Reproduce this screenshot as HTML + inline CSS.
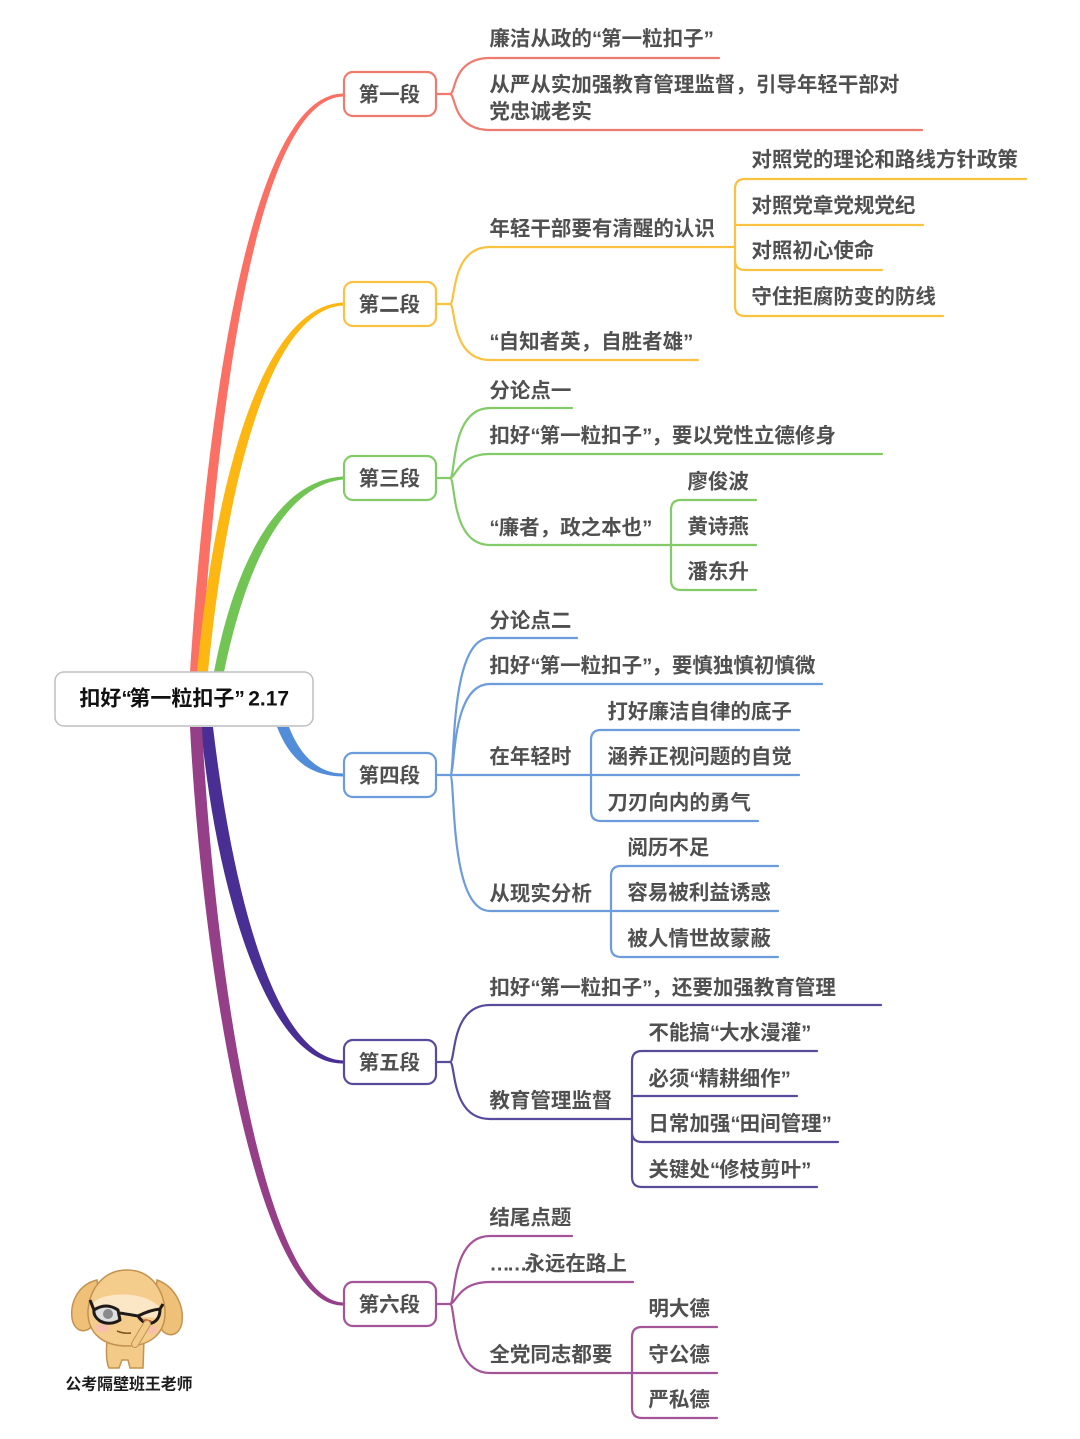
<!DOCTYPE html>
<html lang="zh"><head><meta charset="utf-8"><title>扣好“第一粒扣子”</title>
<style>
html,body{margin:0;padding:0;background:#fff}
svg{display:block}
text{font-family:"Liberation Sans","Noto Sans CJK SC",sans-serif;font-size:20.5px;font-weight:700;fill:#505050;transform:translate(-.6px,-.5px)}
.q{letter-spacing:-1px}
.r{letter-spacing:-2.5px}
.e{letter-spacing:-3px}
.l{fill:none;stroke-width:2.2;stroke-linecap:round;stroke-linejoin:round}
.n{fill:#fff;stroke-width:2.2}
.c{text-anchor:middle}
</style></head><body>
<svg width="1080" height="1439" viewBox="0 0 1080 1439" xmlns="http://www.w3.org/2000/svg">
<!-- main tapered branches -->
<path fill="#fb7064" d="M190 672C205 440 245 95 343 93.5L343 96.5C252 100 215 440 201 672Z"/>
<path fill="#fcb712" d="M197 672C215 480 262 306 343 302.5L343 305.5C270 310 227 480 208 672Z"/>
<path fill="#72c554" d="M214 672C233 570 275 480 343 476.5L343 479.5C282 486 245 570 224 672Z"/>
<path fill="#528dd9" d="M277 727C290 760 310 776 343 776.5L343 773.5C318 773.5 300 755 289 727Z"/>
<path fill="#492e93" d="M201 727C215 880 265 1065 343 1063.5L343 1060.5C272 1058 231 880 213 727Z"/>
<path fill="#953f88" d="M190 727C202 960 255 1307 343 1305.5L343 1302.5C262 1299 214 960 202 727Z"/>

<rect x="55" y="672" width="258" height="54" rx="9" fill="#fff" stroke="#bfbfc4" stroke-width="1.5"/>
<text x="80" y="706" style="font-size:21px;fill:#111">扣好<tspan class="r">“</tspan>第一粒扣子<tspan class="r">”</tspan> 2.17</text>

<!-- branch 1 -->
<g stroke="#ef7b6f" class="l">
<path class="l" d="M436 94H450C456 94 452 58 490 58H719M450 94C456 94 452 130 490 130H922"/>
</g>
<rect class="n" x="344" y="72" width="92" height="44" rx="9" stroke="#ef7b6f"/>
<text class="c" x="390" y="102">第一段</text>
<text x="490" y="46">廉洁从政的<tspan class="q">“</tspan>第一粒扣子<tspan class="q">”</tspan></text>
<text x="490" y="92">从严从实加强教育管理监督，引导年轻干部对</text>
<text x="490" y="119">党忠诚老实</text>

<!-- branch 2 -->
<g stroke="#f9c240" class="l">
<path class="l" d="M436 304H450C456 304 450 247 490 247H735M450 304C456 304 450 360 490 360H698"/>
<path class="l" d="M735 247V189Q735 179 745 179H1026M735 225H923M735 247V260Q735 270 745 270H882M735 260V306Q735 316 745 316H943"/>
</g>
<rect class="n" x="344" y="282" width="92" height="44" rx="9" stroke="#f9c240"/>
<text class="c" x="390" y="312">第二段</text>
<text x="490" y="236">年轻干部要有清醒的认识</text>
<text x="490" y="349"><tspan class="q">“</tspan>自知者英，自胜者雄<tspan class="q">”</tspan></text>
<text x="752" y="167">对照党的理论和路线方针政策</text>
<text x="752" y="213">对照党章党规党纪</text>
<text x="752" y="258">对照初心使命</text>
<text x="752" y="304">守住拒腐防变的防线</text>

<!-- branch 3 -->
<g stroke="#82cb68" class="l">
<path class="l" d="M436 478H450C456 478 450 408 490 408H572M450 478C456 478 458 454 490 454H882M450 478C456 478 450 545 490 545H671"/>
<path class="l" d="M671 545V510Q671 500 681 500H756M671 545H756M671 545V580Q671 590 681 590H756"/>
</g>
<rect class="n" x="344" y="456" width="92" height="44" rx="9" stroke="#82cb68"/>
<text class="c" x="390" y="486">第三段</text>
<text x="490" y="398">分论点一</text>
<text x="490" y="443">扣好<tspan class="q">“</tspan>第一粒扣子<tspan class="q">”</tspan>，要以党性立德修身</text>
<text x="490" y="535"><tspan class="q">“</tspan>廉者，政之本也<tspan class="q">”</tspan></text>
<text x="688" y="489">廖俊波</text>
<text x="688" y="534">黄诗燕</text>
<text x="688" y="579">潘东升</text>

<!-- branch 4 -->
<g stroke="#6c9cdb" class="l">
<path class="l" d="M436 775H591M450 775C456 775 448 638 490 638H577M450 775C456 775 450 684 490 684H822M450 775C456 775 448 911 490 911H611"/>
<path class="l" d="M591 775V740Q591 730 601 730H799M591 775H799M591 775V811Q591 821 601 821H758"/>
<path class="l" d="M611 911V876Q611 866 621 866H778M611 911H778M611 911V947Q611 957 621 957H778"/>
</g>
<rect class="n" x="344" y="753" width="92" height="44" rx="9" stroke="#6c9cdb"/>
<text class="c" x="390" y="783">第四段</text>
<text x="490" y="628">分论点二</text>
<text x="490" y="673">扣好<tspan class="q">“</tspan>第一粒扣子<tspan class="q">”</tspan>，要慎独慎初慎微</text>
<text x="490" y="764">在年轻时</text>
<text x="490" y="901">从现实分析</text>
<text x="608" y="719">打好廉洁自律的底子</text>
<text x="608" y="764">涵养正视问题的自觉</text>
<text x="608" y="810">刀刃向内的勇气</text>
<text x="628" y="855">阅历不足</text>
<text x="628" y="900">容易被利益诱惑</text>
<text x="628" y="946">被人情世故蒙蔽</text>

<!-- branch 5 -->
<g stroke="#5a4a9c" class="l">
<path class="l" d="M436 1062H450C456 1062 450 1005 490 1005H881M450 1062C456 1062 450 1119 490 1119H632"/>
<path class="l" d="M632 1119V1061Q632 1051 642 1051H817M632 1096H797M632 1119V1132Q632 1142 642 1142H838M632 1132V1177Q632 1187 642 1187H817"/>
</g>
<rect class="n" x="344" y="1040" width="92" height="44" rx="9" stroke="#5a4a9c"/>
<text class="c" x="390" y="1070">第五段</text>
<text x="490" y="995">扣好<tspan class="q">“</tspan>第一粒扣子<tspan class="q">”</tspan>，还要加强教育管理</text>
<text x="490" y="1108">教育管理监督</text>
<text x="649" y="1040">不能搞<tspan class="q">“</tspan>大水漫灌<tspan class="q">”</tspan></text>
<text x="649" y="1086">必须<tspan class="q">“</tspan>精耕细作<tspan class="q">”</tspan></text>
<text x="649" y="1131">日常加强<tspan class="q">“</tspan>田间管理<tspan class="q">”</tspan></text>
<text x="649" y="1177">关键处<tspan class="q">“</tspan>修枝剪叶<tspan class="q">”</tspan></text>

<!-- branch 6 -->
<g stroke="#a4559a" class="l">
<path class="l" d="M436 1304H450C456 1304 450 1236 490 1236H572M450 1304C456 1304 458 1282 490 1282H633M450 1304C456 1304 450 1373 490 1373H632"/>
<path class="l" d="M632 1373V1337Q632 1327 642 1327H717M632 1373H717M632 1373V1408Q632 1418 642 1418H717"/>
</g>
<rect class="n" x="344" y="1282" width="92" height="44" rx="9" stroke="#a4559a"/>
<text class="c" x="390" y="1312">第六段</text>
<text x="490" y="1225">结尾点题</text>
<text x="490" y="1271"><tspan class="e">……</tspan>永远在路上</text>
<text x="490" y="1362">全党同志都要</text>
<text x="649" y="1316">明大德</text>
<text x="649" y="1362">守公德</text>
<text x="649" y="1407">严私德</text>

<!-- mascot -->
<g stroke="#c4924f" stroke-width="1.5">
<path fill="#f3cb88" d="M107 1340C106 1352 106 1362 109 1368H119L122 1360L128 1360L130 1368H143L144 1340Z"/>
<path fill="#efc078" d="M97 1280C80 1284 70 1300 72 1318C74 1332 86 1334 92 1326L100 1300Z"/>
<path fill="#efc078" d="M157 1280C174 1286 184 1304 182 1322C180 1336 168 1338 162 1330L155 1300Z"/>
<path fill="#f4cd8c" d="M127 1270C104 1270 90 1288 88 1310C87 1334 104 1346 127 1346C150 1346 166 1334 165 1310C163 1288 150 1270 127 1270Z"/>
</g>
<path fill="#fbe6c6" d="M94 1302C104 1292 146 1290 160 1308L160 1318L94 1314Z"/>
<ellipse cx="102" cy="1328" rx="7" ry="4.5" fill="#f8c0ac"/><ellipse cx="152" cy="1330" rx="6" ry="4" fill="#f8c0ac"/>
<ellipse cx="107" cy="1314" rx="12" ry="9" fill="#dedede"/>
<circle cx="108" cy="1314" r="5" fill="#8a8a8a"/>
<path d="M90 1300L94 1310Q106 1302 118 1310L120 1320Q110 1326 100 1321Q93 1316 94 1310M120 1313L138 1316Q150 1310 160 1309L163 1304M160 1309Q160 1320 152 1323Q144 1325 138 1316" fill="none" stroke="#1e1a18" stroke-width="3" stroke-linejoin="round"/>
<path d="M142 1320Q146 1318 152 1321L146 1323Z" fill="#b5473a"/>
<path d="M117 1331Q124 1334 131 1333" fill="none" stroke="#7a5522" stroke-width="1.5"/>
<path d="M147 1324L135 1344" stroke="#c4924f" stroke-width="8" fill="none" stroke-linecap="round"/>
<path d="M147 1324L135 1344" stroke="#f3cb88" stroke-width="6" fill="none" stroke-linecap="round"/>
<text x="66" y="1390" style="font-size:15.9px;fill:#1c1c1c">公考隔壁班王老师</text>
</svg>
</body></html>
